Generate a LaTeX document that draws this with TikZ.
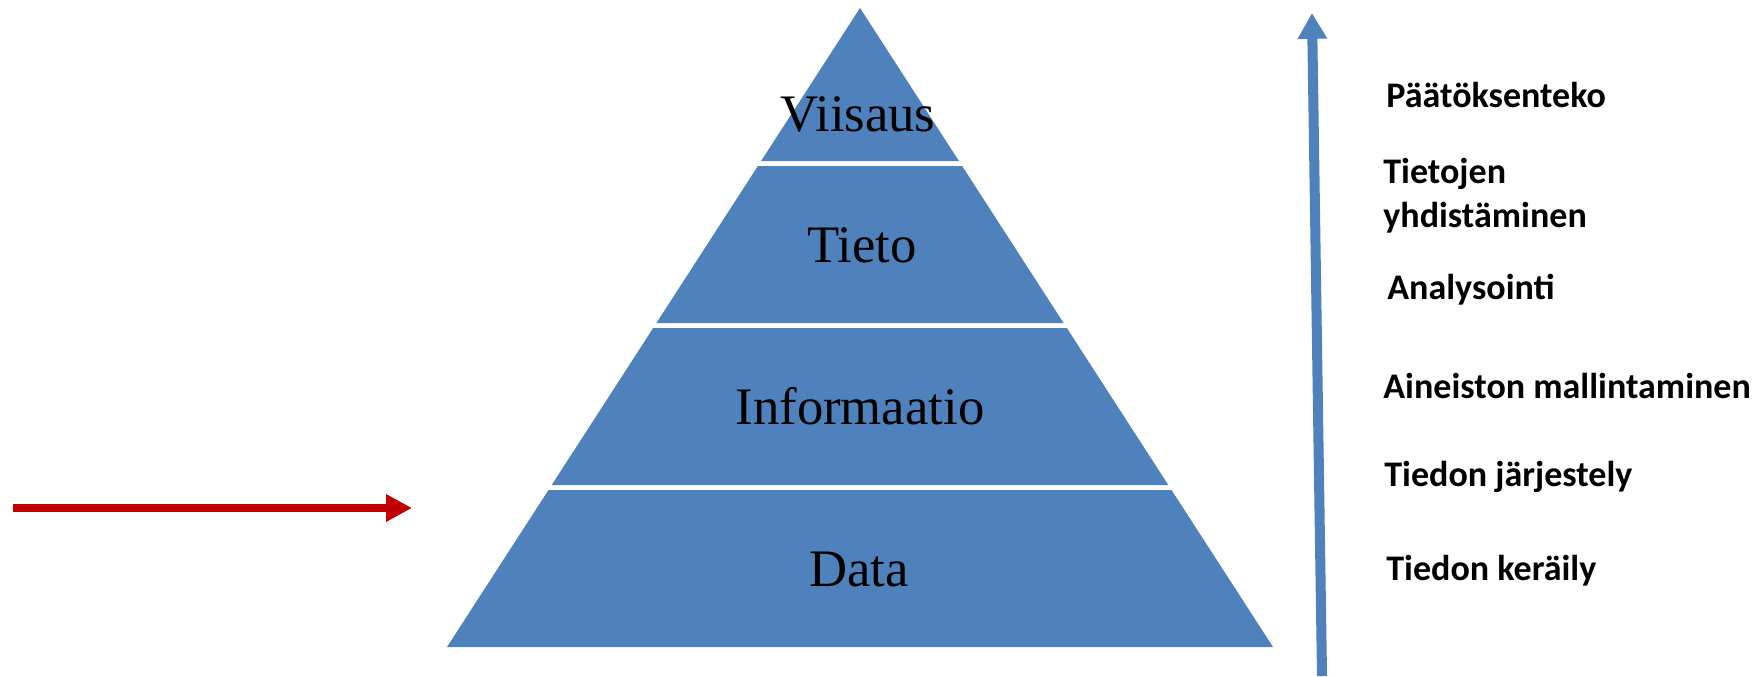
\documentclass[tikz,border=0pt]{standalone}
\usepackage{fontspec}
\setmainfont{Liberation Serif}
\newfontfamily\calib{Carlito}
\usetikzlibrary{arrows.meta}

\definecolor{pyrblue}{HTML}{4F81BD}
\definecolor{arrred}{HTML}{C00000}

\tikzset{
  layer/.style={fill=pyrblue, draw=none},
  levelname/.style={font=\fontsize{30}{34}\selectfont, text=black},
  stagename/.style={font=\calib\bfseries\fontsize{20.5}{25}\selectfont, anchor=base west, align=left, inner sep=0pt},
}

\begin{document}
\begin{tikzpicture}[x=0.02cm, y=-0.02cm]
  \useasboundingbox (0,0) rectangle (1763,676);

  % pyramid, top to bottom
  \fill[layer] (860,8) -- (958.9,161) -- (761.1,161) -- cycle;
  \fill[layer] (757.9,166) -- (962.1,166) -- (1063.6,323) -- (656.4,323) -- cycle;
  \fill[layer] (653.2,328) -- (1066.8,328) -- (1168.3,485) -- (551.7,485) -- cycle;
  \fill[layer] (548.5,490) -- (1171.5,490) -- (1273,647) -- (447,647) -- cycle;

  \node[levelname] (viisaus) at (858,114) {Viisaus};
  \node[levelname] (tieto) at (862,245) {Tieto};
  \node[levelname] (informaatio) at (860,406) {Informaatio};
  \node[levelname] (data) at (859,569) {Data};

  % rising arrow and the steps
  \coordinate (nousu-ala) at (1322,676);
  \coordinate (nousu-yla) at (1312,13);
  \draw[pyrblue, line width=5.7pt, -{Triangle[length=14.7pt, width=15.9pt]}] (nousu-ala) -- (nousu-yla);

  \node[stagename] (paatos) at (1386,107) {Päätöksenteko};
  \node[stagename] (yhdistaminen) at (1383,227) {Tietojen\\yhdistäminen};
  \node[stagename] (analysointi) at (1387,299) {Analysointi};
  \node[stagename] (mallintaminen) at (1383,398) {Aineiston mallintaminen};
  \node[stagename] (jarjestely) at (1384,486) {Tiedon järjestely};
  \node[stagename] (keraily) at (1386,580) {Tiedon keräily};

  % pointer at the data level
  \coordinate (osoitin-alku) at (13,508);
  \coordinate (osoitin-loppu) at (412,508);
  \draw[arrred, line width=5.1pt, -{Triangle[length=14.7pt, width=14.7pt]}] (osoitin-alku) -- (osoitin-loppu);
\end{tikzpicture}
\end{document}
